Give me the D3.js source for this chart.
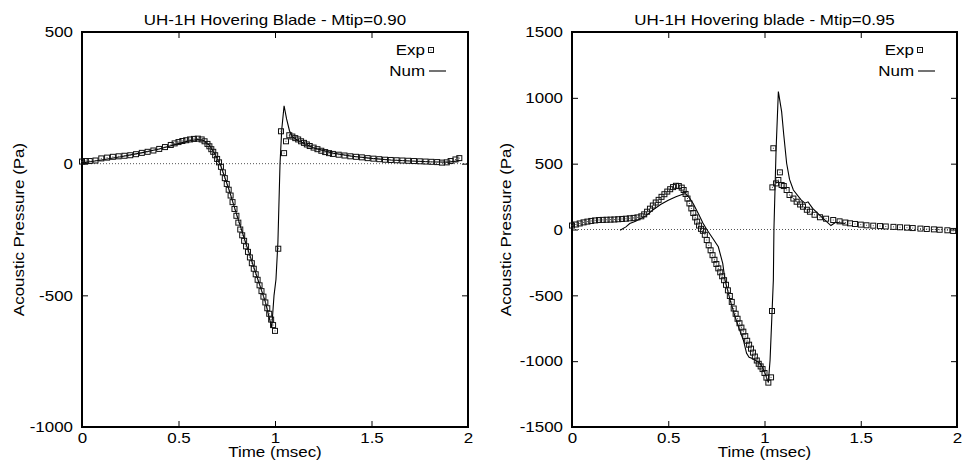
<!DOCTYPE html>
<html>
<head>
<meta charset="utf-8">
<script src="https://cdn.jsdelivr.net/npm/d3@7"></script>
<style>
  body { margin: 0; background: #fff; }
  svg { display: block; font-family: "Liberation Sans", Arial, sans-serif; }
</style>
</head>
<body>
<svg id="chart" width="964" height="468"></svg>
<script>
// tick values
const xTicks = [0, 0.5, 1, 1.5, 2];
const leftYTicks = [-1000, -500, 0, 500];
const rightYTicks = [-1500, -1000, -500, 0, 500, 1000, 1500];

// Mtip = 0.90, experiment [time msec, pressure Pa]
const leftExp = [
  [0.00, 8], [0.02, 10], [0.04, 10], [0.07, 12], [0.10, 20], [0.13, 23], [0.16, 26], [0.19, 28],
  [0.22, 30], [0.25, 32], [0.28, 36], [0.31, 41], [0.34, 45], [0.37, 50], [0.40, 56], [0.43, 63],
  [0.46, 71], [0.48, 77], [0.50, 82], [0.52, 86], [0.54, 89], [0.56, 92], [0.58, 94], [0.60, 95],
  [0.62, 92], [0.635, 85], [0.65, 75], [0.66, 66], [0.67, 55], [0.68, 45], [0.69, 32], [0.70, 18],
  [0.71, 5], [0.72, -12], [0.73, -33], [0.74, -55], [0.75, -77], [0.76, -99], [0.77, -121],
  [0.78, -146], [0.79, -172], [0.80, -198], [0.81, -224], [0.82, -250], [0.83, -272], [0.84, -293],
  [0.85, -314], [0.86, -335], [0.87, -356], [0.88, -378], [0.89, -399], [0.90, -420], [0.91, -441],
  [0.92, -462], [0.93, -484], [0.94, -505], [0.95, -527], [0.96, -549], [0.97, -570], [0.98, -592],
  [0.99, -613], [1.00, -635],
  [1.017, -323], [1.031, 123], [1.047, 40], [1.057, 85], [1.074, 108],
  [1.09, 103], [1.105, 97], [1.12, 92], [1.135, 85], [1.15, 79], [1.165, 73], [1.18, 67], [1.20, 61],
  [1.22, 55], [1.24, 49], [1.26, 44], [1.28, 40], [1.30, 37], [1.33, 34], [1.36, 31], [1.39, 28],
  [1.42, 26], [1.45, 24], [1.48, 21], [1.51, 19], [1.54, 17], [1.57, 15], [1.60, 14], [1.63, 13],
  [1.66, 12], [1.69, 11], [1.72, 10], [1.75, 9], [1.78, 8], [1.81, 7], [1.84, 6], [1.865, 4],
  [1.89, 5], [1.91, 10], [1.935, 16], [1.955, 21]
];

// Mtip = 0.90, numerical
const leftNum = [
  [0, 3], [0.05, 8], [0.1, 14], [0.2, 26], [0.3, 40], [0.4, 56], [0.5, 76], [0.55, 86], [0.6, 92],
  [0.63, 88], [0.66, 70], [0.69, 35], [0.72, -10], [0.76, -95], [0.80, -190], [0.85, -305],
  [0.90, -415], [0.95, -525], [0.97, -585], [0.983, -623], [0.995, -500], [1.005, -440],
  [1.015, -300], [1.026, 0], [1.035, 130], [1.047, 220], [1.06, 170], [1.075, 125], [1.09, 102],
  [1.12, 88], [1.16, 74], [1.2, 60], [1.3, 40], [1.4, 28], [1.5, 20], [1.6, 14], [1.7, 10],
  [1.8, 7], [1.9, 6], [1.96, 12]
];

// Mtip = 0.95, experiment
const rightExp = [
  [0.00, 30], [0.02, 38], [0.04, 46], [0.06, 54], [0.08, 60], [0.10, 65], [0.12, 69], [0.14, 72],
  [0.16, 73], [0.18, 74], [0.20, 75], [0.22, 76], [0.24, 78], [0.26, 80], [0.28, 82], [0.30, 85],
  [0.32, 88], [0.34, 92], [0.36, 100], [0.375, 115], [0.39, 135], [0.405, 158], [0.42, 182],
  [0.435, 205], [0.45, 225], [0.465, 248], [0.48, 268], [0.495, 288], [0.51, 306], [0.525, 322],
  [0.54, 332], [0.555, 330], [0.57, 318], [0.58, 300], [0.59, 270], [0.60, 235], [0.61, 198],
  [0.62, 160], [0.63, 125], [0.64, 92], [0.65, 60], [0.66, 30], [0.67, 5], [0.68, -10],
  [0.69, -40], [0.70, -80], [0.71, -120], [0.72, -158], [0.73, -195], [0.74, -230], [0.75, -262],
  [0.76, -295], [0.77, -325], [0.78, -355], [0.79, -385], [0.80, -420], [0.81, -462], [0.82, -505],
  [0.83, -550], [0.84, -600], [0.85, -640], [0.86, -678], [0.87, -712], [0.88, -745], [0.89, -776],
  [0.90, -810], [0.91, -845], [0.92, -875], [0.93, -905], [0.94, -935], [0.95, -965], [0.96, -995],
  [0.97, -1020], [0.98, -1040], [0.99, -1060], [1.00, -1090], [1.01, -1125], [1.02, -1163],
  [1.034, -1123], [1.039, -619], [1.041, 320], [1.046, 617], [1.06, 350], [1.072, 376], [1.08, 434],
  [1.089, 338], [1.10, 330], [1.115, 300], [1.13, 262], [1.15, 235], [1.167, 211], [1.185, 190],
  [1.20, 173], [1.22, 150], [1.236, 135], [1.26, 112], [1.288, 93], [1.32, 82], [1.357, 72],
  [1.39, 62], [1.42, 53], [1.444, 47], [1.47, 42], [1.50, 37], [1.53, 32], [1.565, 29], [1.60, 26],
  [1.63, 23], [1.67, 20], [1.704, 17], [1.74, 14], [1.77, 11], [1.81, 7], [1.843, 4], [1.88, 1],
  [1.91, -2], [1.95, -6], [1.98, -11]
];

// Mtip = 0.95, numerical
const rightNum = [
  [0.25, -5], [0.28, 20], [0.30, 45], [0.33, 62], [0.35, 77], [0.38, 100], [0.42, 148],
  [0.46, 190], [0.50, 222], [0.54, 248], [0.575, 268], [0.59, 272], [0.61, 240], [0.63, 195],
  [0.66, 110], [0.68, 50], [0.70, 0], [0.73, -65], [0.76, -131], [0.783, -257], [0.795, -384],
  [0.821, -535], [0.847, -662], [0.87, -760], [0.89, -839], [0.907, -940], [0.92, -970],
  [0.934, -978], [0.955, -995], [0.977, -1016], [1.0, -1080], [1.015, -1143], [1.02, -1160],
  [1.029, -990], [1.039, -636], [1.046, -384], [1.049, 0], [1.06, 600], [1.072, 1047],
  [1.089, 895], [1.10, 720], [1.115, 503], [1.13, 380], [1.15, 300], [1.19, 225], [1.21, 200],
  [1.226, 210], [1.25, 160], [1.30, 90], [1.345, 30], [1.37, 55], [1.42, 45]
];

const svg = d3.select('#chart');
const FS = 15;     // font size
const SX = 1.13;   // the original text is a bit wider than Arial

function label(g, x, y, str, anchor, rot) {
  let t = g.append('g').attr('transform', 'translate(' + x + ',' + y + ')' + (rot ? ' rotate(' + rot + ')' : ''));
  t.append('text').attr('transform', 'scale(' + SX + ',1)')
    .attr('text-anchor', anchor).attr('font-size', FS).attr('fill', '#000').text(str);
}

function drawPanel(p) {
  let x = d3.scaleLinear().domain([0, 2]).range([p.left, p.right]);
  let y = d3.scaleLinear().domain(p.yDomain).range([p.bottom, p.top]);
  let g = svg.append('g');

  // zero line
  g.append('line')
    .attr('x1', x(0)).attr('x2', x(2)).attr('y1', y(0)).attr('y2', y(0))
    .attr('stroke', '#555').attr('stroke-width', 1).attr('stroke-dasharray', '1,2');

  // axes, ticks pointing inward
  let fmt = d => String(d);
  g.append('g').attr('transform', 'translate(0,' + p.bottom + ')')
    .call(d3.axisBottom(x).tickValues(xTicks).tickFormat(fmt).tickSizeInner(-6).tickSizeOuter(0).tickPadding(5));
  g.append('g').attr('transform', 'translate(0,' + p.top + ')')
    .call(d3.axisTop(x).tickValues(xTicks).tickFormat('').tickSizeInner(-6).tickSizeOuter(0));
  g.append('g').attr('transform', 'translate(' + p.left + ',0)')
    .call(d3.axisLeft(y).tickValues(p.yTicks).tickFormat(fmt).tickSizeInner(-6).tickSizeOuter(0).tickPadding(9));
  g.append('g').attr('transform', 'translate(' + p.right + ',0)')
    .call(d3.axisRight(y).tickValues(p.yTicks).tickFormat('').tickSizeInner(-6).tickSizeOuter(0));
  g.selectAll('.tick line').attr('stroke', '#000').attr('stroke-width', 1);
  g.selectAll('.domain').remove();
  g.selectAll('.tick text').attr('font-size', FS).attr('fill', '#000')
    .attr('font-family', '"Liberation Sans", Arial, sans-serif')
    .attr('x', function() { return (+d3.select(this).attr('x') || 0) / SX; })
    .attr('transform', 'scale(' + SX + ',1)');

  // frame
  g.append('rect')
    .attr('x', p.left).attr('y', p.top)
    .attr('width', p.right - p.left).attr('height', p.bottom - p.top)
    .attr('fill', 'none').attr('stroke', '#000').attr('stroke-width', 2);

  // numerical line
  let line = d3.line().x(d => x(d[0])).y(d => y(d[1]));
  g.append('path').datum(p.num).attr('d', line)
    .attr('fill', 'none').attr('stroke', '#000').attr('stroke-width', 1.1);

  // experimental boxes
  let pts = g.append('g').selectAll('g').data(p.exp).join('g')
    .attr('transform', d => 'translate(' + x(d[0]) + ',' + y(d[1]) + ')');
  pts.append('rect').attr('x', -2.5).attr('y', -2.5).attr('width', 5).attr('height', 5)
    .attr('fill', 'none').attr('stroke', '#111').attr('stroke-width', 1);
  pts.append('rect').attr('x', -0.5).attr('y', -0.5).attr('width', 1).attr('height', 1)
    .attr('fill', '#444');

  // texts
  let cx = (p.left + p.right) / 2;
  label(g, cx, 25, p.title, 'middle');
  label(g, cx, 457, 'Time (msec)', 'middle');
  label(g, p.left - p.ylabOff, (p.top + p.bottom) / 2, 'Acoustic Pressure (Pa)', 'middle', -90);

  // legend
  let lx = p.right - 43;
  label(g, lx, 55, 'Exp', 'end');
  let m = g.append('g').attr('transform', 'translate(' + (lx + 6) + ',50)');
  m.append('rect').attr('x', -2.5).attr('y', -2.5).attr('width', 5).attr('height', 5)
    .attr('fill', 'none').attr('stroke', '#111').attr('stroke-width', 1);
  m.append('rect').attr('x', -0.5).attr('y', -0.5).attr('width', 1).attr('height', 1).attr('fill', '#444');
  label(g, lx, 76, 'Num', 'end');
  g.append('line').attr('x1', lx + 4).attr('x2', lx + 21).attr('y1', 71).attr('y2', 71)
    .attr('stroke', '#000').attr('stroke-width', 1.1);
}

drawPanel({
  left: 82, right: 468, top: 32, bottom: 427, ylabOff: 58,
  yDomain: [-1000, 500], yTicks: leftYTicks,
  exp: leftExp, num: leftNum,
  title: 'UH-1H Hovering Blade - Mtip=0.90'
});

drawPanel({
  left: 572, right: 957, top: 32, bottom: 427, ylabOff: 61,
  yDomain: [-1500, 1500], yTicks: rightYTicks,
  exp: rightExp, num: rightNum,
  title: 'UH-1H Hovering blade - Mtip=0.95'
});
</script>
</body>
</html>
